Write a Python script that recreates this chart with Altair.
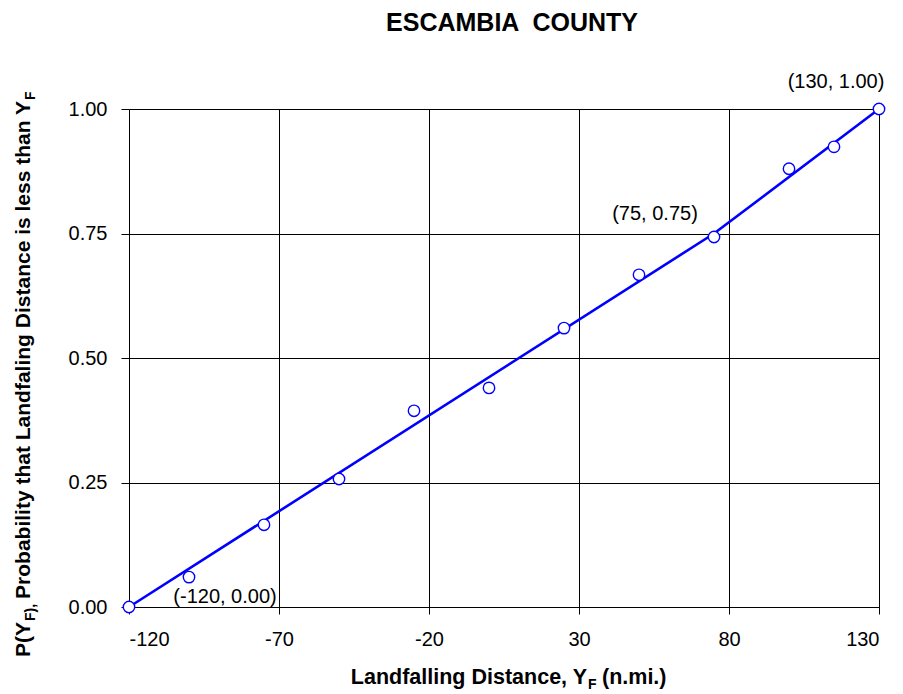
import altair as alt
import pandas as pd

# Observed landfalling distances (n.mi.) and cumulative probabilities
distance = [-120, -100, -75, -50, -25, 0, 25, 50, 75, 100, 115, 130]
probability = [0.00, 0.060, 0.165, 0.257, 0.394, 0.440, 0.560, 0.667, 0.743, 0.880, 0.924, 1.00]

# Piecewise-linear fitted distribution
fit_distance = [-120, 75, 130]
fit_probability = [0.00, 0.75, 1.00]

# Labelled break points of the fit
label_distance = [-120, 75, 130]
label_probability = [0.00, 0.75, 1.00]
label_text = ["(-120, 0.00)", "(75, 0.75)", "(130, 1.00)"]

x_ticks = [-120, -70, -20, 30, 80, 130]
y_ticks = [0.0, 0.25, 0.5, 0.75, 1.0]

FONT = "Liberation Sans"
W, H = 750, 498

pts = pd.DataFrame({"d": distance, "p": probability})
fit = pd.DataFrame({"d": fit_distance, "p": fit_probability})
labels = pd.DataFrame({"d": label_distance, "p": label_probability, "t": label_text})

xscale = alt.Scale(domain=[-120, 130], nice=False, zero=False)
yscale = alt.Scale(domain=[0, 1], nice=False, zero=False)

axis_style = dict(grid=True, gridColor="black", gridOpacity=1, gridWidth=1,
                  domainColor="black", tickColor="black", labelColor="black",
                  labelFont=FONT, labelFontSize=20, title=None)

xaxis = alt.Axis(values=x_ticks, labelExpr="'' + datum.value",
                 labelPadding=15, tickSize=7, **axis_style)
yaxis = alt.Axis(values=y_ticks, format=".2f", labelPadding=14, tickSize=8,
                 **axis_style)

X = alt.X("d:Q", scale=xscale, axis=xaxis)
Y = alt.Y("p:Q", scale=yscale, axis=yaxis)

line = alt.Chart(fit).mark_line(color="#0000FF", strokeWidth=2.6).encode(x=X, y=Y)

points = alt.Chart(pts).mark_point(
    shape="circle", size=130, filled=False, fill="white", fillOpacity=1,
    color="#0000FF", strokeWidth=1.4, opacity=1
).encode(x=X, y=Y)

offsets = [(96, -4), (-59, -14), (-43, -21)]
label_layers = []
for i, (dx, dy) in enumerate(offsets):
    label_layers.append(
        alt.Chart(labels.iloc[[i]]).mark_text(
            font=FONT, fontSize=20, color="black", dx=dx, dy=dy,
            align="center", baseline="alphabetic"
        ).encode(x=alt.X("d:Q", scale=xscale), y=alt.Y("p:Q", scale=yscale),
                 text="t:N")
    )

one = alt.Data(values=[{}])


def txt(s, x, y, size=21, bold=True, align="left", angle=0):
    kw = dict(font=FONT, fontSize=size, color="black", align=align,
              baseline="alphabetic", fontWeight="bold" if bold else "normal")
    if angle:
        kw["angle"] = angle
    return alt.Chart(one).mark_text(**kw).encode(
        x=alt.value(x), y=alt.value(y), text=alt.value(s))


# Chart title
title = txt("ESCAMBIA \u00a0COUNTY", 383, -78, size=25, align="center")

# X axis title with subscript
xa = 458
xt = [
    txt("Landfalling Distance, Y", xa, 575, size=21.5, align="right"),
    txt("F", xa + 1, 580, size=14),
    txt("(n.mi.)", xa + 15, 575, size=21.5),
]

# Y axis title (rotated) with subscripts
ya2 = -8            # end of the main phrase
ya1 = ya2 + 521     # end of "P(Y"
yt = [
    txt("P(Y", -99, ya1, align="right", angle=270),
    txt("F),", -94, ya1 - 1, size=14, angle=270),
    txt("Probability that Landfaling Distance is less than Y", -99, ya2,
        align="right", angle=270),
    txt("F", -94, ya2 - 1, size=14, angle=270),
]

chart = alt.layer(line, points, *label_layers, title, *xt, *yt).properties(
    width=W, height=H,
    autosize=alt.AutoSizeParams(type="none"),
    padding={"left": 129, "top": 109, "right": 24, "bottom": 87},
).configure_view(stroke=None).configure(background="white")

chart.save("out.html", embed_options={"renderer": "svg", "actions": False})
